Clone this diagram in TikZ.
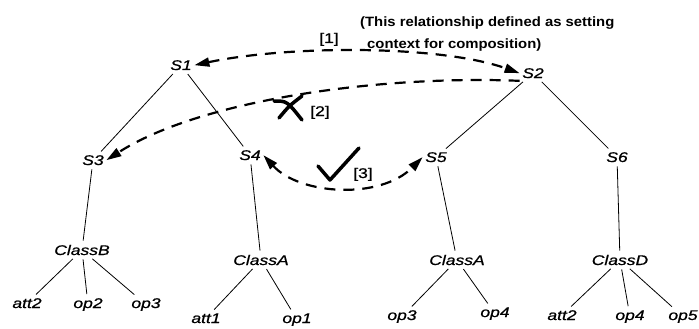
\documentclass[tikz,border=0pt]{standalone}
\usepackage{fontspec}
\newfontfamily\labfont[FakeStretch=1.25,FakeBold=0.8]{Liberation Sans}
\newfontfamily\notefont[FakeStretch=1.1]{Liberation Sans Bold}
\usetikzlibrary{arrows.meta}
\tikzset{rtip/.tip={Triangle[length=15pt,width=9pt]}}
\begin{document}
\begin{tikzpicture}[x=1pt,y=-1pt,
  lab/.style={font=\labfont\itshape\fontsize{14}{14}\selectfont, inner sep=2.5pt, anchor=base},
  num/.style={font=\labfont\fontsize{14}{14}\selectfont, inner sep=1pt, anchor=base},
  note/.style={font=\notefont\fontsize{13.5}{14}\selectfont, inner sep=0pt, anchor=base west},
  edge/.style={line width=0.8pt, shorten <=1.5pt, shorten >=1.5pt},
  rel/.style={line width=2.2pt, dash pattern=on 11pt off 8pt},
  brush/.style={line width=3.5pt, line cap=round, line join=round}]
\useasboundingbox (0,0) rectangle (699,329);
% level 1
\node[lab] (s1) at (181,70) {S1};
\node[lab] (s2) at (533,78) {S2};
% level 2
\node[lab] (s3) at (93,165) {S3};
\node[lab] (s4) at (250,160) {S4};
\node[lab] (s5) at (436,162) {S5};
\node[lab] (s6) at (617,162) {S6};
% classes
\node[lab] (cb) at (82,255) {ClassB};
\node[lab] (ca1) at (261,265) {ClassA};
\node[lab] (ca2) at (457,265) {ClassA};
\node[lab] (cd) at (620,265) {ClassD};
% leaves
\node[lab] (b1) at (27,308) {att2};
\node[lab] (b2) at (88,308) {op2};
\node[lab] (b3) at (146,308) {op3};
\node[lab] (a1) at (206,323) {att1};
\node[lab] (a2) at (297,323) {op1};
\node[lab] (c1) at (402,320) {op3};
\node[lab] (c2) at (495,317) {op4};
\node[lab] (d1) at (562,320) {att2};
\node[lab] (d2) at (630,320) {op4};
\node[lab] (d3) at (683,320) {op5};
% tree edges
\draw[edge] (s1) -- (s3);
\draw[edge] (s1) -- (s4);
\draw[edge] (s2) -- (s5);
\draw[edge] (s2) -- (s6);
\draw[edge] (s3) -- (cb);
\draw[edge] (s4) -- (ca1);
\draw[edge] (s5) -- (ca2);
\draw[edge] (s6) -- (cd);
\draw[edge] (cb) -- (b1);
\draw[edge] (cb) -- (b2);
\draw[edge] (cb) -- (b3);
\draw[edge] (ca1) -- (a1);
\draw[edge] (ca1) -- (a2);
\draw[edge] (ca2) -- (c1);
\draw[edge] (ca2) -- (c2);
\draw[edge] (cd) -- (d1);
\draw[edge] (cd) -- (d2);
\draw[edge] (cd) -- (d3);
% relationships
\draw[rel, rtip-rtip] (s1.east) .. controls (290,45) and (440,45) .. (s2.west);
\draw[rel, -rtip] (s2.south west) .. controls (380,75) and (200,100) .. (s3.east);
\draw[rel, rtip-rtip] (s4.east) .. controls (300,195) and (380,200) .. (s5.west);
% labels
\node[num] (l1) at (329,43) {[1]};
\node[num] (l2) at (320,116) {[2]};
\node[num] (l3) at (363,178) {[3]};
\node[note] (n1) at (360,27) {(This relationship defined as setting};
\node[note] (n2) at (367,49) {context for composition)};
% cross mark
\draw[brush] (274,101) .. controls (287,101) .. (302,120);
\draw[brush] (279,118) .. controls (289,106) .. (302,96);
% check mark
\draw[brush] (318,166) -- (330,180) -- (359,148);
\end{tikzpicture}
\end{document}
